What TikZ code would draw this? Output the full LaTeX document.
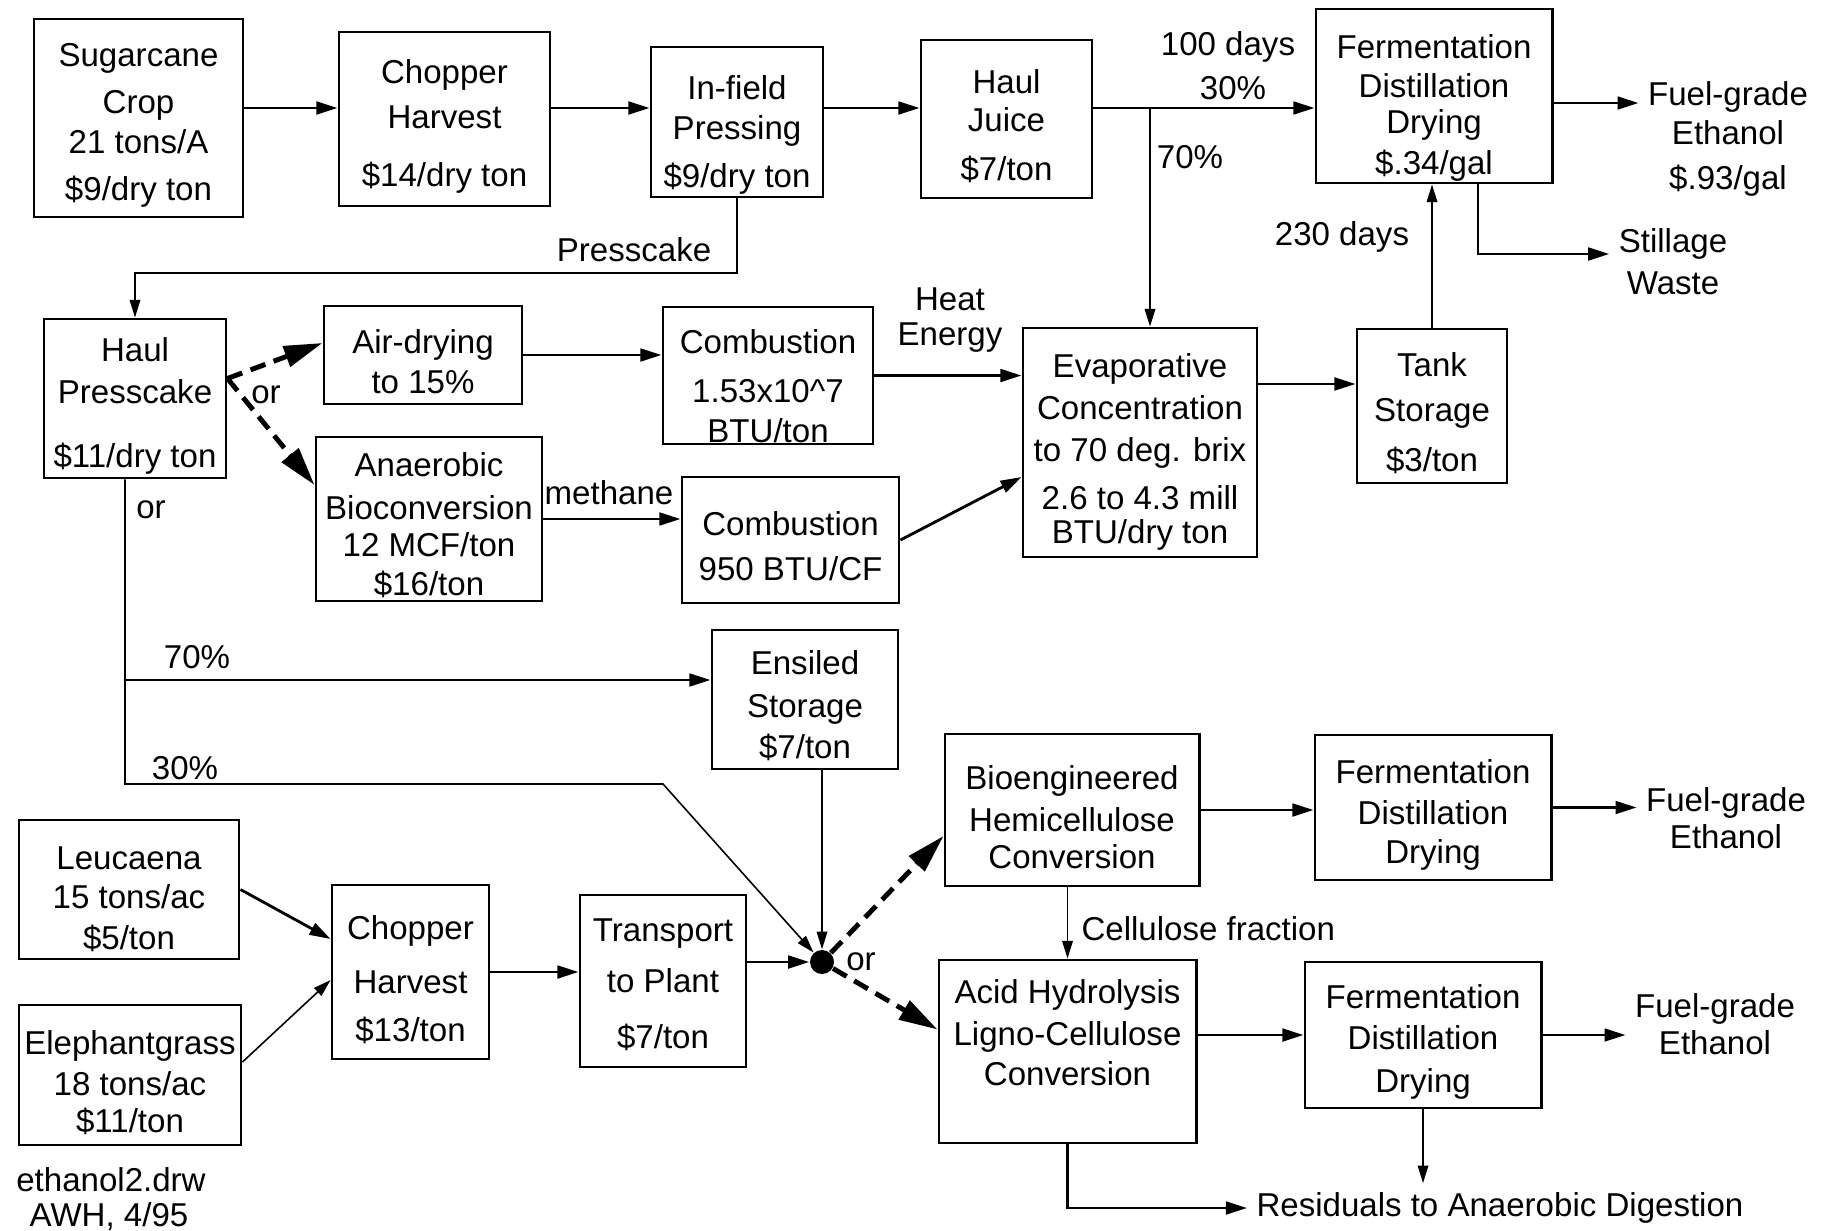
\documentclass[tikz,border=0pt]{standalone}
\usepackage{fontspec}
\setmainfont{Liberation Sans}
\usepackage{tikz}
\usetikzlibrary{positioning, arrows.meta, calc}

\newcommand{\flowfont}{\fontsize{9.4}{12}\selectfont}
\newcommand{\toplift}[1]{\rule{0pt}{#1}}

\begin{document}
\begin{tikzpicture}[
    x=0.01cm, y=-0.01cm,
    block/.style={rectangle, draw=black, line width=0.8pt, align=center,
                  inner sep=0pt, font=\flowfont},
    note/.style={align=center, inner sep=2.5pt, font=\flowfont},
    arrow/.style={-{Triangle[length=6pt, width=3.6pt]}, line width=0.8pt},
    thinarrow/.style={-{Triangle[length=5pt, width=3pt]}, line width=0.45pt},
    orarrow/.style={-{Triangle[length=11pt, width=6pt]}, line width=1.4pt,
                    dash pattern=on 4.5pt off 2.5pt},
    joint/.style={circle, fill=black, inner sep=0pt, minimum size=0.24cm}
]
    \useasboundingbox (0,0) rectangle (1825,1230);

    % === Sugarcane juice line ===
    \node[block, minimum width=2.09cm, minimum height=1.98cm] (sugar) at (138.5,118)
        {\toplift{10.9pt}Sugarcane\\[1.4pt]Crop\\[-0.6pt]21 tons/A\\[1.4pt]\$9/dry ton};
    \node[block, minimum width=2.11cm, minimum height=1.74cm] (chop1) at (444.5,119)
        {\toplift{10.9pt}Chopper\\[1pt]Harvest\\[4.3pt]\$14/dry ton};
    \node[block, minimum width=1.72cm, minimum height=1.50cm] (infield) at (737,122)
        {\toplift{14pt}In-field\\[-0.6pt]Pressing\\[1.7pt]\$9/dry ton};
    \node[block, minimum width=1.71cm, minimum height=1.58cm] (hjuice) at (1006.5,119)
        {\toplift{10.9pt}Haul\\[-1.2pt]Juice\\[2.2pt]\$7/ton};
    \node[block, minimum width=2.36cm, minimum height=1.74cm] (ferm1) at (1434,96)
        {\toplift{13.5pt}Fermentation\\[-0.9pt]Distillation\\[-1.8pt]Drying\\[-0.3pt]\$.34/gal};
    \node[note] (fuel1) at (1728,139) {Fuel-grade\\[-1.1pt]Ethanol\\[0.9pt]\$.93/gal};
    \node[note] (stillage) at (1673,262) {Stillage\\Waste};
    \node[block, minimum width=1.50cm, minimum height=1.54cm] (tank) at (1432,406)
        {\toplift{10.9pt}Tank\\[0.8pt]Storage\\[2.2pt]\$3/ton};
    \node[block, minimum width=2.34cm, minimum height=2.29cm] (evap) at (1140,442.5)
        {\toplift{12pt}Evaporative\\Concentration\\to 70 deg. brix\\[1.6pt]2.6 to 4.3 mill\\[-2.3pt]BTU/dry ton};

    \node[note] (days100) at (1228,47) {100 days};
    \node[note] (pct30a) at (1233,88) {30\%};
    \node[note] (pct70a) at (1190,157) {70\%};
    \node[note] (days230) at (1342,237) {230 days};

    \coordinate (row1) at (0,108);
    \coordinate (split) at (1150,108);
    \draw[arrow] (sugar.east |- row1) -- (chop1.west |- row1);
    \draw[arrow] (chop1.east |- row1) -- (infield.west |- row1);
    \draw[arrow] (infield.east |- row1) -- (hjuice.west |- row1);
    \draw[arrow] (hjuice.east |- row1) -- (ferm1.west |- row1);
    \draw[thinarrow] (split) -- (split |- evap.north);
    \draw[arrow] ([yshift=-0.07cm]ferm1.east) -- ([yshift=-0.07cm]ferm1.east -| fuel1.west);
    \draw[arrow] ([xshift=0.44cm]ferm1.south) |- ([yshift=0.08cm]stillage.west);
    \draw[thinarrow] (tank.north) -- (tank.north |- ferm1.south);

    % === Presscake ===
    \node[block, minimum width=1.82cm, minimum height=1.59cm] (haulpc) at (135,398.5)
        {\toplift{10.9pt}Haul\\Presscake\\[6.2pt]\$11/dry ton};
    \node[block, minimum width=1.98cm, minimum height=0.98cm] (airdry) at (423,355)
        {\toplift{10.4pt}Air-drying\\[-0.6pt]to 15\%};
    \node[block, minimum width=2.10cm, minimum height=1.37cm] (comb1) at (768,375.5)
        {\toplift{13pt}Combustion\\[1.9pt]1.53x10\textasciicircum7\\[-0.6pt]BTU/ton};
    \node[block, minimum width=2.26cm, minimum height=1.64cm] (anaer) at (429,519)
        {\toplift{10.3pt}Anaerobic\\Bioconversion\\[-1.5pt]12 MCF/ton\\[-0.9pt]\$16/ton};
    \node[block, minimum width=2.17cm, minimum height=1.26cm] (comb2) at (790.5,540)
        {\toplift{10.4pt}Combustion\\[0.8pt]950 BTU/CF};

    \node[note] (presscake) at (634,250) {Presscake};
    \node[note] (heat) at (950,320) {Heat\\[-2pt]Energy};
    \node[note] (methane) at (609,493) {methane};
    \node[note] (or1) at (266,395) {or};
    \node[note] (or2) at (151,510) {or};

    \coordinate (pcbend) at (0,273);
    \coordinate (orsplit) at ([yshift=0.2cm]haulpc.east);
    \draw[thinarrow] (infield.south) -- (infield.south |- pcbend) -| (haulpc.north);
    \draw[orarrow] (orsplit) -- ([yshift=0.12cm]airdry.west);
    \draw[orarrow] (orsplit) -- ([yshift=0.34cm]anaer.west);
    \draw[arrow] (airdry.east) -- (airdry.east -| comb1.west);
    \draw[arrow] (comb1.east) -- (comb1.east -| evap.west);
    \draw[arrow] (anaer.east) -- (anaer.east -| comb2.west);
    \draw[arrow] (comb2.east) -- ([yshift=-0.345cm]evap.west);
    \coordinate (tankin) at ([yshift=0.22cm]tank.west);
    \draw[arrow] (evap.east |- tankin) -- (tankin);

    % === Fibre feedstocks ===
    \node[block, minimum width=1.86cm, minimum height=1.39cm] (ensiled) at (805,699.5)
        {\toplift{10.4pt}Ensiled\\Storage\\[-0.3pt]\$7/ton};
    \node[block, minimum width=2.20cm, minimum height=1.39cm] (leuc) at (129,889.5)
        {\toplift{12pt}Leucaena\\[-0.9pt]15 tons/ac\\[-0.3pt]\$5/ton};
    \node[block, minimum width=2.22cm, minimum height=1.40cm] (eleph) at (130,1075)
        {\toplift{11.2pt}Elephantgrass\\[-0.3pt]18 tons/ac\\[-1.5pt]\$11/ton};
    \node[block, minimum width=1.57cm, minimum height=1.74cm] (chop2) at (410.5,972)
        {\toplift{10.9pt}Chopper\\[3.6pt]Harvest\\[1.4pt]\$13/ton};
    \node[block, minimum width=1.66cm, minimum height=1.72cm] (transp) at (663,981)
        {\toplift{8.8pt}Transport\\[2.5pt]to Plant\\[3.9pt]\$7/ton};
    \node[joint] (dot) at (822,962) {};

    \node[note] (pct70b) at (197,657) {70\%};
    \node[note] (pct30b) at (185,768) {30\%};
    \node[note] (or3) at (861,962) {or};
    \node[note] (drw) at (111,1180) {ethanol2.drw};
    \node[note] (awh) at (109,1217) {AWH, 4/95};

    \coordinate (pcdown) at ([xshift=-0.1cm]haulpc.south);
    \coordinate (bend30) at (663,784);
    \coordinate (ensin) at ([yshift=0.195cm]ensiled.west);
    \draw[thinarrow] (pcdown) |- (bend30) -- (dot);
    \draw[arrow] (pcdown |- ensin) -- (ensin);
    \draw[thinarrow] (dot |- ensiled.south) -- (dot);
    \draw[arrow] (leuc.east) -- ([yshift=0.33cm]chop2.west);
    \draw[thinarrow] ([yshift=0.13cm]eleph.east) -- ([yshift=-0.08cm]chop2.west);
    \draw[arrow] (chop2.east) -- (chop2.east -| transp.west);
    \draw[arrow] (transp.east |- dot) -- (dot);

    % === Conversion routes ===
    \node[block, minimum width=2.54cm, minimum height=1.52cm] (bio) at (1072,810)
        {\toplift{10.9pt}Bioengineered\\Hemicellulose\\[-1.5pt]Conversion};
    \node[block, minimum width=2.36cm, minimum height=1.45cm] (ferm2) at (1433,807.5)
        {\toplift{11.2pt}Fermentation\\[-0.3pt]Distillation\\[-0.9pt]Drying};
    \node[block, minimum width=2.57cm, minimum height=1.83cm, text depth=11pt] (acid) at (1067.5,1051.5)
        {Acid Hydrolysis\\Ligno-Cellulose\\[-0.6pt]Conversion};
    \node[block, minimum width=2.36cm, minimum height=1.46cm] (ferm3) at (1423,1035)
        {\toplift{10.9pt}Fermentation\\[-0.3pt]Distillation\\[0.3pt]Drying};
    \node[note] (fuel2) at (1726,818) {Fuel-grade\\[-1.5pt]Ethanol};
    \node[note] (fuel3) at (1715,1024) {Fuel-grade\\[-1.5pt]Ethanol};
    \node[note, anchor=west] (cellfrac) at (1072,929) {Cellulose fraction};
    \node[note, anchor=west] (resid) at (1247,1208) {Residuals to Anaerobic Digestion};

    \draw[orarrow] (dot) -- ([yshift=-0.26cm]bio.west);
    \draw[orarrow] (dot) -- ([yshift=0.22cm]acid.west);
    \draw[arrow] (bio.east) -- (bio.east -| ferm2.west);
    \draw[arrow] (ferm2.east) -- (ferm2.east -| fuel2.west);
    \draw[thinarrow] (bio.south -| acid.north) -- (acid.north);
    \draw[arrow] (acid.east |- ferm3.west) -- (ferm3.west);
    \draw[arrow] (ferm3.east) -- (ferm3.east -| fuel3.west);
    \draw[thinarrow] (ferm3.south) -- (ferm3.south |- resid.north);
    \draw[arrow] (acid.south) |- (resid.west);

\end{tikzpicture}
\end{document}
